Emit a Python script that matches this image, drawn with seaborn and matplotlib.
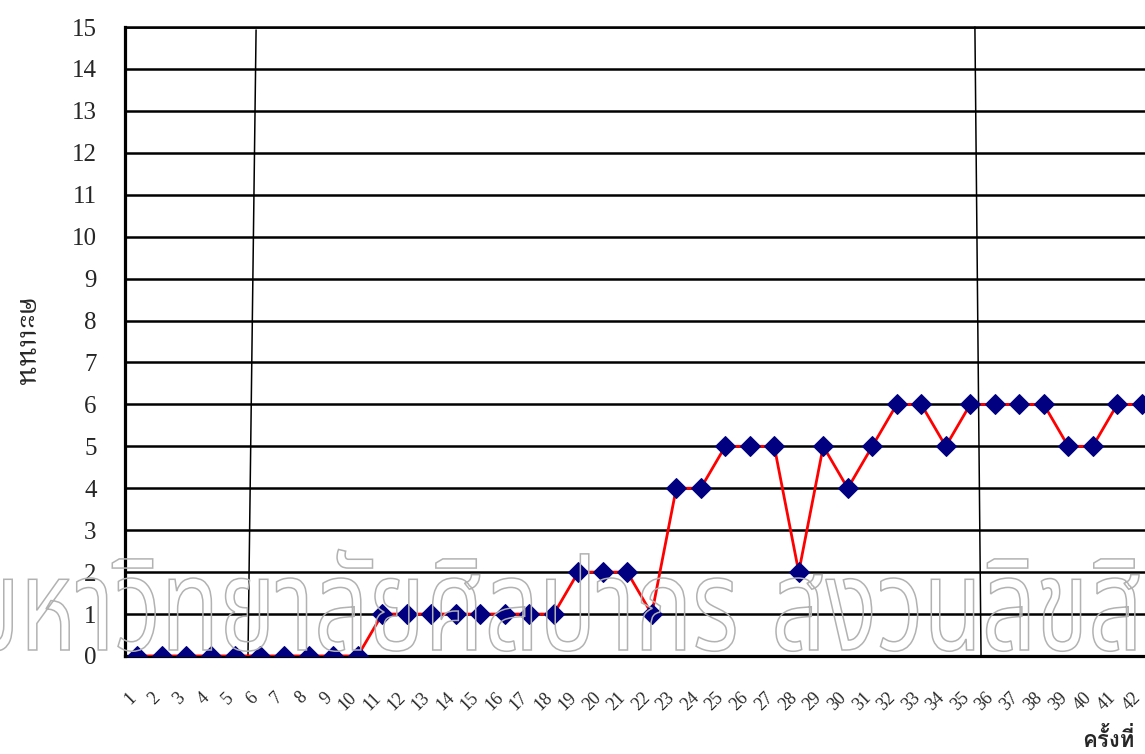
import matplotlib
matplotlib.use("Agg")
import matplotlib.pyplot as plt
import seaborn as sns
import numpy as np
import pandas as pd
from matplotlib import font_manager
from matplotlib.ft2font import FT2Font
from matplotlib.textpath import TextPath
from matplotlib.patches import PathPatch
from matplotlib.transforms import Affine2D, IdentityTransform, ScaledTranslation
from matplotlib.ticker import FixedLocator

# ---------------- data ----------------
sessions = list(range(1, 43))
scores = [0, 0, 0, 0, 0, 0, 0, 0, 0, 0,
          1, 1, 1, 1, 1, 1, 1, 1,
          2, 2, 2,
          1,
          4, 4,
          5, 5, 5,
          2,
          5, 4, 5,
          6, 6, 5,
          6, 6, 6, 6,
          5, 5,
          6, 6]
y_ticks = list(range(0, 16))
x_tick_labels = [str(s) for s in sessions]
x_label = "ครั้งที่"
y_label = "คะแนน"
watermark_1 = "มหาวิทยาลัยศิลปากร"
watermark_2 = "สงวนลิขสิทธิ์"
# phase-change lines (x at top, y top, x at bottom, y bottom)
phase_lines = [(5.85, 14.93, 5.52, 0.0), (35.19, 15.0, 35.44, 0.0)]

# ---------------- fonts ----------------
def thai_fonts():
    names = set()
    for f in font_manager.fontManager.ttflist:
        try:
            if 0x0E04 in FT2Font(f.fname).get_charmap():
                names.add(f.name)
        except Exception:
            pass
    return names

THAI = thai_fonts()

def pick(prefs):
    for p in prefs:
        if p in THAI:
            return p
    return sorted(THAI)[0] if THAI else "DejaVu Sans"

f_ylabel = pick(["Noto Serif Thai", "Norasi", "Kinnari", "Sarabun", "Noto Sans Thai Looped", "Loma", "Garuda"])
f_xlabel = pick(["Loma", "Noto Sans Thai Looped", "Sarabun", "Garuda", "Noto Sans Thai"])
f_water = pick(["Noto Sans Thai", "Kanit", "Prompt", "Anuphan", "Athiti", "Bai Jamjuree"])

sns.set_style("white")
plt.rcParams["font.family"] = ["Liberation Serif", "DejaVu Serif"]

W, H = 1145, 754
fig = plt.figure(figsize=(W / 100, H / 100), dpi=100)
ax = fig.add_axes([125 / W, (H - 656) / H, (1154 - 125) / W, (656 - 27) / H])

df = pd.DataFrame({"session": sessions, "score": scores})
sns.lineplot(data=df, x="session", y="score", ax=ax, color="#ff0000", lw=2.0,
             marker="D", markersize=10, markerfacecolor="#000080",
             markeredgecolor="#000080", zorder=5)

ax.set_xlim(0.5, 42.5)
ax.set_ylim(0, 15)
ax.set_yticks(y_ticks)
ax.set_yticklabels([str(v) for v in y_ticks], fontsize=18)
ax.xaxis.set_major_locator(FixedLocator(sessions))
ax.set_xticklabels([])
# rotated category labels, anchored below each category
lab_tr = ax.get_xaxis_transform() + ScaledTranslation(-10 / 100, -33 / 100, fig.dpi_scale_trans)
for s, lab in zip(sessions, x_tick_labels):
    ax.text(s, 0, lab, transform=lab_tr, rotation=45, rotation_mode="anchor",
            ha="right", va="top", fontsize=13, clip_on=False)
ax.xaxis.set_minor_locator(FixedLocator([s - 0.5 for s in sessions] + [42.5]))
ax.tick_params(axis="x", which="major", length=0)
ax.tick_params(axis="x", which="minor", length=6, width=1.6, color="black", direction="out")
ax.tick_params(axis="y", which="major", length=9.5, width=1.6, color="black",
               direction="out", pad=11)
ax.set_xlabel("")
ax.set_ylabel("")

ax.yaxis.grid(True, color="black", lw=1.8)
ax.xaxis.grid(False)
for s in ["left", "bottom", "top"]:
    ax.spines[s].set_visible(True)
    ax.spines[s].set_color("black")
ax.spines["left"].set_linewidth(2.3)
ax.spines["bottom"].set_linewidth(2.3)
ax.spines["top"].set_linewidth(1.8)
ax.spines["right"].set_visible(False)

for (xt, yt, xb, yb) in phase_lines:
    ax.plot([xt, xb], [yt, yb], color="black", lw=1.1, zorder=4, clip_on=False)

fig.text(24 / W, 1 - 343 / H, y_label, rotation=270, ha="center", va="center",
         fontsize=21, family=[f_ylabel, "DejaVu Sans"])
fig.text(1135 / W, 1 - 739 / H, x_label, ha="right", va="center",
         fontsize=16, fontweight="bold", family=[f_xlabel, "DejaVu Sans"])

# ---------------- watermark (outlined text) ----------------
fp = font_manager.FontProperties(family=f_water)
ref = TextPath((0, 0), "ก", size=100, prop=fp)
rb = ref.get_extents()
h_cons = rb.y1 - max(rb.y0, 0)
sy = 72.0 / h_cons
p1 = TextPath((0, 0), watermark_1, size=100, prop=fp)
b1 = p1.get_extents()
sx = 765.0 / (b1.x1 - b1.x0)
base = H - 650
t1 = Affine2D().translate(-b1.x0, 0).scale(sx, sy).translate(-30, base)
fig.add_artist(PathPatch(t1.transform_path(p1), transform=IdentityTransform(),
                         facecolor="none", edgecolor="#b2b2b2", lw=1.1, zorder=20))
p2 = TextPath((0, 0), watermark_2, size=100, prop=fp)
b2 = p2.get_extents()
t2 = Affine2D().translate(-b2.x0, 0).scale(sx, sy).translate(776, base)
fig.add_artist(PathPatch(t2.transform_path(p2), transform=IdentityTransform(),
                         facecolor="none", edgecolor="#b2b2b2", lw=1.1, zorder=20))

fig.savefig("out.png", dpi=100)
